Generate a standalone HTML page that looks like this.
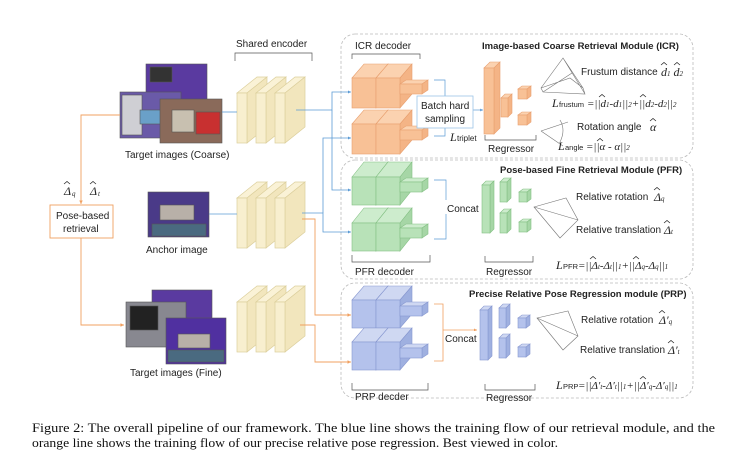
<!DOCTYPE html>
<html><head><meta charset="utf-8"><style>
html,body{margin:0;padding:0;background:#fff;}
svg{display:block;}
text{font-family:"Liberation Sans",sans-serif;fill:#222;}
.t{font-size:10px;}
.b{font-size:9.5px;font-weight:bold;}
.m{font-family:"Liberation Serif",serif;font-style:italic;font-size:11px;}
.h{font-family:"Liberation Sans",sans-serif;font-size:8px;}
.cap{font-family:"Liberation Serif",serif;font-size:13px;fill:#111;}
</style></head><body>
<svg width="740" height="465" viewBox="0 0 740 465" xmlns="http://www.w3.org/2000/svg">
<defs>
<marker id="ab" markerWidth="5" markerHeight="5" refX="4" refY="2.5" orient="auto"><path d="M0,0.5 L4,2.5 L0,4.5z" fill="#5b9bd5"/></marker>
<marker id="ao" markerWidth="5" markerHeight="5" refX="4" refY="2.5" orient="auto"><path d="M0,0.5 L4,2.5 L0,4.5z" fill="#f0a060"/></marker>
<g id="slab"><path d="M0,0 L20,-16 L30,-16 L10,0z" fill="#faf2d6" stroke="#dccf9c" stroke-width="0.7"/><path d="M10,0 L30,-16 L30,34 L10,50z" fill="#f2e6bd" stroke="#dccf9c" stroke-width="0.7"/><rect x="0" y="0" width="10" height="50" fill="#f8efcf" stroke="#dccf9c" stroke-width="0.7"/></g>
<g id="enc"><use href="#slab" x="0"/><use href="#slab" x="19"/><use href="#slab" x="38"/></g>
<path id="hat" d="M0,0 L3,-2.5 L6,0" fill="none" stroke="#222" stroke-width="0.7"/>
</defs>

<g fill="none" stroke="#bbb" stroke-dasharray="3,2" stroke-width="0.8">
<rect x="341" y="34" width="352" height="124" rx="14"/>
<rect x="341" y="160" width="352" height="119" rx="14"/>
<rect x="341" y="283" width="352" height="115" rx="14"/>
</g>

<text class="t" x="236" y="47">Shared encoder</text>
<path d="M235,61 V53 H312 V61" fill="none" stroke="#555" stroke-width="0.7"/>
<use href="#enc" x="237" y="93"/>
<use href="#enc" x="237" y="198"/>
<use href="#enc" x="237" y="302"/>

<g stroke="#555" stroke-width="0.6">
<rect x="146" y="64" width="61" height="42" fill="#5a3aa0"/>
<rect x="150" y="67" width="22" height="15" fill="#333"/>
<rect x="120" y="92" width="61" height="46" fill="#6a5aa8"/>
<rect x="122" y="95" width="20" height="40" fill="#cfcfd4"/>
<rect x="140" y="110" width="22" height="14" fill="#6aa0c8"/>
<rect x="160" y="99" width="62" height="44" fill="#8a6a5a"/>
<rect x="172" y="110" width="22" height="22" fill="#c8c0b0"/>
<rect x="196" y="112" width="24" height="22" fill="#c83030"/>
<rect x="148" y="192" width="61" height="45" fill="#4a3a88"/>
<rect x="160" y="205" width="34" height="15" fill="#b8b0a8"/>
<rect x="152" y="224" width="54" height="12" fill="#4a6a80"/>
<rect x="152" y="290" width="60" height="38" fill="#5a3aa0"/>
<rect x="126" y="302" width="60" height="45" fill="#888890"/>
<rect x="130" y="306" width="28" height="24" fill="#222"/>
<rect x="166" y="318" width="60" height="46" fill="#5030a0"/>
<rect x="178" y="334" width="32" height="14" fill="#b8b0a8"/>
<rect x="168" y="350" width="56" height="12" fill="#4a6a80"/>
</g>
<text class="t" x="125" y="158">Target images (Coarse)</text>
<text class="t" x="146" y="253">Anchor image</text>
<text class="t" x="130" y="376">Target images (Fine)</text>

<rect x="50" y="205" width="63" height="33" fill="#fff" stroke="#f0a060" stroke-width="0.9"/>
<text class="t" x="56" y="219">Pose-based</text>
<text class="t" x="63" y="232">retrieval</text>
<text class="m" x="64" y="195" style="font-size:12px">Δ</text><text class="m" x="72" y="196" style="font-size:7px">q</text><use href="#hat" x="64" y="184"/>
<text class="m" x="90" y="195" style="font-size:12px">Δ</text><text class="m" x="98" y="196" style="font-size:7px">t</text><use href="#hat" x="90" y="184"/>

<g fill="none" stroke="#f0a060" stroke-width="0.9">
<path d="M120,115 H81 V204" marker-end="url(#ao)"/>
<path d="M81,238 V325 H124" marker-end="url(#ao)"/>
<path d="M302,219 H315 V315 H351" marker-end="url(#ao)"/>
<path d="M300,325 H315 V362 H351" marker-end="url(#ao)"/>
</g>
<g fill="none" stroke="#5b9bd5" stroke-width="0.8">
<path d="M222,112 H237"/>
<path d="M209,214 H237"/>
<path d="M296,110 H332 V92 H351" marker-end="url(#ab)"/>
<path d="M332,110 V190 H351" marker-end="url(#ab)"/>
<path d="M302,213 H323 V232 H351" marker-end="url(#ab)"/>
<path d="M323,213 V138 H351" marker-end="url(#ab)"/>
</g>

<g stroke="#e8a070" stroke-width="0.6">
<g id="blk">
<path d="M352,78 L364,64 L388,64 L376,78z" fill="#fbd2b0"/><path d="M376,78 L388,64 L388,94 L376,108z" fill="#f4b486"/><rect x="352" y="78" width="24" height="30" fill="#f8c196"/>
<path d="M376,78 L388,64 L412,64 L400,78z" fill="#fbd2b0"/><path d="M400,78 L412,64 L412,94 L400,108z" fill="#f4b486"/><rect x="376" y="78" width="24" height="30" fill="#f8c196"/>
<path d="M400,84 L406,80 L428,80 L422,84z" fill="#fbd2b0"/><path d="M422,84 L428,80 L428,90 L422,94z" fill="#f4b486"/><rect x="400" y="84" width="22" height="10" fill="#f8c196"/>
</g>
<use href="#blk" y="46"/>
</g>
<g stroke="#84c084" stroke-width="0.6">
<g id="gblk">
<path d="M352,177 L364,162 L388,162 L376,177z" fill="#cdeccd"/><path d="M376,177 L388,162 L388,190 L376,205z" fill="#a6d6a6"/><rect x="352" y="177" width="24" height="28" fill="#b8e2b8"/>
<path d="M376,177 L388,162 L412,162 L400,177z" fill="#cdeccd"/><path d="M400,177 L412,162 L412,190 L400,205z" fill="#a6d6a6"/><rect x="376" y="177" width="24" height="28" fill="#b8e2b8"/>
<path d="M400,182 L406,178 L428,178 L422,182z" fill="#cdeccd"/><path d="M422,182 L428,178 L428,188 L422,192z" fill="#a6d6a6"/><rect x="400" y="182" width="22" height="10" fill="#b8e2b8"/>
</g>
<use href="#gblk" y="46"/>
</g>
<g stroke="#8898d0" stroke-width="0.6">
<g id="bblk">
<path d="M352,300 L364,286 L388,286 L376,300z" fill="#cfd8f2"/><path d="M376,300 L388,286 L388,314 L376,328z" fill="#9fb0e0"/><rect x="352" y="300" width="24" height="28" fill="#b4c2ec"/>
<path d="M376,300 L388,286 L412,286 L400,300z" fill="#cfd8f2"/><path d="M400,300 L412,286 L412,314 L400,328z" fill="#9fb0e0"/><rect x="376" y="300" width="24" height="28" fill="#b4c2ec"/>
<path d="M400,306 L406,302 L428,302 L422,306z" fill="#cfd8f2"/><path d="M422,306 L428,302 L428,312 L422,316z" fill="#9fb0e0"/><rect x="400" y="306" width="22" height="10" fill="#b4c2ec"/>
</g>
<use href="#bblk" y="42"/>
</g>

<g fill="none" stroke="#555" stroke-width="0.7">
<path d="M352,59 V54 H420 V59"/>
<path d="M352,255 V262 H430 V255"/>
<path d="M352,383 V390 H428 V383"/>
<path d="M485,135 V140 H536 V135"/>
<path d="M485,256 V262 H533 V256"/>
<path d="M485,384 V390 H535 V384"/>
</g>
<text class="t" x="355" y="49">ICR  decoder</text>
<text class="t" x="355" y="275">PFR decoder</text>
<text class="t" x="355" y="400">PRP decder</text>
<text class="t" x="488" y="152">Regressor</text>
<text class="t" x="486" y="275">Regressor</text>
<text class="t" x="486" y="401">Regressor</text>

<g fill="none" stroke="#5b9bd5" stroke-width="0.7">
<path d="M434,80 H445 V96"/><path d="M434,136 H445 V128"/>
<path d="M473,110 H483" marker-end="url(#ab)"/>
<path d="M434,180 H446 V239 H434"/><path d="M446,205 H478" marker-end="url(#ab)"/>
</g>
<rect x="417" y="96" width="56" height="32" fill="#fff" stroke="#9cc4e6" stroke-width="0.8"/>
<text class="t" x="421" y="109">Batch hard</text>
<text class="t" x="425" y="122">sampling</text>
<text class="m" x="450" y="141" style="font-size:12px">L</text><text class="t" x="457" y="141" style="font-size:8px">triplet</text>
<g fill="none" stroke="#f0a060" stroke-width="0.8">
<path d="M434,304 H443 V361 H434"/><path d="M443,330 H477" marker-end="url(#ao)"/>
</g>
<rect x="445" y="200" width="33" height="14" fill="#fff"/>
<text class="t" x="447" y="212">Concat</text>
<rect x="444" y="331" width="33" height="14" fill="#fff"/>
<text class="t" x="445" y="342">Concat</text>

<g stroke="#e8a070" stroke-width="0.6">
<path d="M484,68 L490,62 L500,62 L494,68z" fill="#fbd2b0"/><path d="M494,68 L500,62 L500,128 L494,134z" fill="#f4b486"/><rect x="484" y="68" width="10" height="66" fill="#f8c196"/>
<path d="M501,98 L505,94 L512,94 L508,98z" fill="#fbd2b0"/><path d="M508,98 L512,94 L512,113 L508,117z" fill="#f4b486"/><rect x="501" y="98" width="7" height="19" fill="#f8c196"/>
<path d="M518,89 L522,86 L531,86 L527,89z" fill="#fbd2b0"/><path d="M527,89 L531,86 L531,96 L527,99z" fill="#f4b486"/><rect x="518" y="89" width="9" height="10" fill="#f8c196"/>
<path d="M518,115 L522,112 L531,112 L527,115z" fill="#fbd2b0"/><path d="M527,115 L531,112 L531,122 L527,125z" fill="#f4b486"/><rect x="518" y="115" width="9" height="10" fill="#f8c196"/>
</g>
<g stroke="#84c084" stroke-width="0.6">
<path d="M482,185 L486,181 L494,181 L490,185z" fill="#cdeccd"/><path d="M490,185 L494,181 L494,229 L490,233z" fill="#a6d6a6"/><rect x="482" y="185" width="8" height="48" fill="#b8e2b8"/>
<path d="M500,182 L504,178 L511,178 L507,182z" fill="#cdeccd"/><path d="M507,182 L511,178 L511,198 L507,202z" fill="#a6d6a6"/><rect x="500" y="182" width="7" height="20" fill="#b8e2b8"/>
<path d="M500,213 L504,209 L511,209 L507,213z" fill="#cdeccd"/><path d="M507,213 L511,209 L511,229 L507,233z" fill="#a6d6a6"/><rect x="500" y="213" width="7" height="20" fill="#b8e2b8"/>
<path d="M519,192 L523,189 L531,189 L527,192z" fill="#cdeccd"/><path d="M527,192 L531,189 L531,199 L527,202z" fill="#a6d6a6"/><rect x="519" y="192" width="8" height="10" fill="#b8e2b8"/>
<path d="M519,222 L523,219 L531,219 L527,222z" fill="#cdeccd"/><path d="M527,222 L531,219 L531,229 L527,232z" fill="#a6d6a6"/><rect x="519" y="222" width="8" height="10" fill="#b8e2b8"/>
</g>
<g stroke="#8898d0" stroke-width="0.6">
<path d="M480,310 L484,306 L492,306 L488,310z" fill="#cfd8f2"/><path d="M488,310 L492,306 L492,356 L488,360z" fill="#9fb0e0"/><rect x="480" y="310" width="8" height="50" fill="#b4c2ec"/>
<path d="M499,308 L503,304 L510,304 L506,308z" fill="#cfd8f2"/><path d="M506,308 L510,304 L510,324 L506,328z" fill="#9fb0e0"/><rect x="499" y="308" width="7" height="20" fill="#b4c2ec"/>
<path d="M499,338 L503,334 L510,334 L506,338z" fill="#cfd8f2"/><path d="M506,338 L510,334 L510,354 L506,358z" fill="#9fb0e0"/><rect x="499" y="338" width="7" height="20" fill="#b4c2ec"/>
<path d="M518,318 L522,315 L530,315 L526,318z" fill="#cfd8f2"/><path d="M526,318 L530,315 L530,325 L526,328z" fill="#9fb0e0"/><rect x="518" y="318" width="8" height="10" fill="#b4c2ec"/>
<path d="M518,347 L522,344 L530,344 L526,347z" fill="#cfd8f2"/><path d="M526,347 L530,344 L530,354 L526,357z" fill="#9fb0e0"/><rect x="518" y="347" width="8" height="10" fill="#b4c2ec"/>
</g>

<g fill="none" stroke="#777" stroke-width="0.6">
<path d="M541,88 L563,58 L583,88 L585,94 L543,92z M563,58 L585,94 M541,88 L570,78 L583,88 M543,92 L572,73"/>
<path d="M541,131 L568,122 M541,131 L563,146 M560,120 Q566,130 560,142"/>
<path d="M534,207 L566,198 L578,220 L560,238z M534,207 L578,220 M534,207 L560,238"/>
<path d="M537,318 L568,311 L578,336 L563,350z M537,318 L578,336 M537,318 L563,350"/>
</g>

<text class="b" x="482" y="49">Image-based Coarse Retrieval Module (ICR)</text>
<text class="b" x="500" y="173">Pose-based Fine Retrieval Module (PFR)</text>
<text class="b" x="469" y="297">Precise Relative Pose Regression module (PRP)</text>

<text class="t" x="581" y="75">Frustum distance</text>
<text class="m" x="661" y="76" style="font-size:12px">d<tspan font-size="7">1</tspan> d<tspan font-size="7">2</tspan></text>
<use href="#hat" x="661" y="65"/><use href="#hat" x="674" y="65"/>
<text class="m" x="552" y="107" style="font-size:12px">L</text><text class="t" x="559" y="107" style="font-size:7.5px">frustum</text>
<text class="m" x="587" y="107">=||d<tspan font-size="7">1</tspan>-d<tspan font-size="7">1</tspan>||<tspan font-size="7">2</tspan>+||d<tspan font-size="7">2</tspan>-d<tspan font-size="7">2</tspan>||<tspan font-size="7">2</tspan></text>
<use href="#hat" x="599" y="97"/><use href="#hat" x="640" y="97"/>
<text class="t" x="577" y="130">Rotation angle</text><text class="m" x="650" y="131" style="font-size:12px">α</text><use href="#hat" x="650" y="121"/>
<text class="m" x="558" y="150" style="font-size:12px">L</text><text class="t" x="565" y="150" style="font-size:7.5px">angle</text>
<text class="m" x="586" y="150">=||α - α||<tspan font-size="7">2</tspan></text><use href="#hat" x="597" y="141"/>

<text class="t" x="576" y="200">Relative rotation</text><text class="m" x="654" y="201" style="font-size:12px">Δ<tspan font-size="7">q</tspan></text><use href="#hat" x="654" y="190"/>
<text class="t" x="576" y="233">Relative translation</text><text class="m" x="664" y="234" style="font-size:12px">Δ<tspan font-size="7">t</tspan></text><use href="#hat" x="664" y="223"/>
<text class="m" x="556" y="269" style="font-size:12px">L</text><text class="t" x="563" y="269" style="font-size:7.5px">PFR</text>
<text class="m" x="578" y="269">=||Δ<tspan font-size="7">t</tspan>-Δ<tspan font-size="7">t</tspan>||<tspan font-size="7">1</tspan>+||Δ<tspan font-size="7">q</tspan>-Δ<tspan font-size="7">q</tspan>||<tspan font-size="7">1</tspan></text>
<use href="#hat" x="590" y="259"/><use href="#hat" x="633" y="259"/>
<text class="t" x="581" y="323">Relative rotation</text><text class="m" x="659" y="324" style="font-size:12px">Δ′<tspan font-size="7">q</tspan></text><use href="#hat" x="659" y="313"/>
<text class="t" x="580" y="353">Relative translation</text><text class="m" x="668" y="354" style="font-size:12px">Δ′<tspan font-size="7">t</tspan></text><use href="#hat" x="668" y="343"/>
<text class="m" x="556" y="389" style="font-size:12px">L</text><text class="t" x="563" y="389" style="font-size:7.5px">PRP</text>
<text class="m" x="578" y="389">=||Δ′<tspan font-size="7">t</tspan>-Δ′<tspan font-size="7">t</tspan>||<tspan font-size="7">1</tspan>+||Δ′<tspan font-size="7">q</tspan>-Δ′<tspan font-size="7">q</tspan>||<tspan font-size="7">1</tspan></text>
<use href="#hat" x="590" y="379"/><use href="#hat" x="640" y="379"/>

<text class="cap" x="32" y="432" textLength="683" lengthAdjust="spacingAndGlyphs">Figure 2: The overall pipeline of our framework.  The blue line shows the training flow of our retrieval module, and the</text>
<text class="cap" x="32" y="447" textLength="526" lengthAdjust="spacingAndGlyphs">orange line shows the training flow of our precise relative pose regression. Best viewed in color.</text>
</svg>
</body></html>
